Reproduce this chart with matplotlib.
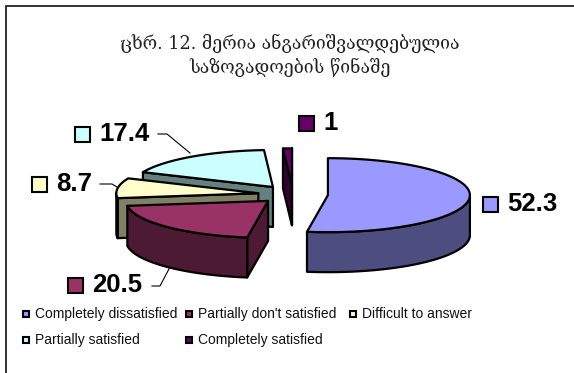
import numpy as np
import matplotlib
matplotlib.use("Agg")
import matplotlib.pyplot as plt
from matplotlib.patches import Polygon, Rectangle

categories = ["Completely dissatisfied", "Partially don't satisfied", "Difficult to answer",
              "Partially satisfied", "Completely satisfied"]
values = [52.3, 20.5, 8.7, 17.4, 1]
top_colors = ["#9999FF", "#993366", "#FFFFCC", "#CCFFFF", "#660066"]
side_colors = ["#4D4D80", "#4D1A33", "#808066", "#668080", "#330033"]

title_lines = ["ცხრ. 12. მერია ანგარიშვალდებულია", "საზოგადოების წინაშე"]

# pie geometry in pixels
CX, CY = 293, 194.5
RX, RY = 142, 37
DEPTH = 40
EXPLODE = 35
LW = 1.6

fig = plt.figure(figsize=(5.74, 3.73), dpi=100)
ax = fig.add_axes([0, 0, 1, 1])
ax.set_xlim(0, 574)
ax.set_ylim(373, 0)
ax.axis("off")

# only the top and left edges of the frame are inside the image
ax.plot([574, 6, 6], [5.5, 5.5, 373], color="#222222", lw=1.3, solid_joinstyle="miter")

for i, line in enumerate(title_lines):
    ax.text(290, 43 + i * 24, line, ha="center", va="center", fontsize=12.7,
            family=["DejaVu Serif", "DejaVu Sans"], color="#222222")


def rim(cx, cy, a0, a1, dy=0):
    t = np.radians(np.linspace(a0, a1, 80))
    return np.column_stack([cx + RX * np.sin(t), cy + dy - RY * np.cos(t)])


def draw_slice(a0, a1, top, side, z):
    mid = np.radians((a0 + a1) / 2)
    cx = CX + EXPLODE * np.sin(mid)
    cy = CY - EXPLODE * RY / RX * np.cos(mid)
    apex = np.array([cx, cy])
    style = dict(ec="black", lw=LW, joinstyle="round", zorder=z)

    # cut face that turns towards the viewer
    if np.sin(np.radians(a0)) < 0:
        p = rim(cx, cy, a0, a0)[0]
        ax.add_patch(Polygon([apex, p, p + [0, DEPTH], apex + [0, DEPTH]], fc=side, **style))
    if np.sin(np.radians(a1)) > 0:
        p = rim(cx, cy, a1, a1)[0]
        ax.add_patch(Polygon([apex, p, p + [0, DEPTH], apex + [0, DEPTH]], fc=side, **style))

    # outer wall, front half only
    lo, hi = max(a0, 90), min(a1, 270)
    if lo < hi:
        upper = rim(cx, cy, lo, hi)
        lower = rim(cx, cy, lo, hi, DEPTH)[::-1]
        ax.add_patch(Polygon(np.vstack([upper, lower]), fc=side, **style))

    ax.add_patch(Polygon(np.vstack([apex, rim(cx, cy, a0, a1)]), fc=top, **style))


edges = np.concatenate([[0], np.cumsum(values)]) / sum(values) * 360
angles = list(zip(edges[:-1], edges[1:]))

# back slices first, the big one in front
for z, i in enumerate([3, 2, 1, 4, 0]):
    draw_slice(angles[i][0], angles[i][1], top_colors[i], side_colors[i], 2 + z)

# value labels with their colour keys
label_pos = [(483, 204), (68, 285), (32, 184), (75, 134), (299, 123)]
for i, (x, y) in enumerate(label_pos):
    ax.add_patch(Rectangle((x, y - 7.5), 15, 15, fc=top_colors[i], ec="black", lw=1.5, zorder=10))
    ax.text(x + 24, y, f"{values[i]:g}", ha="left", va="center", fontsize=18.5, fontweight="bold",
            family="Liberation Sans", color="black", zorder=10)

# leader lines
leaders = [([158, 167, 190], [134, 134, 153]),
           ([100, 112, 117], [184, 184, 187]),
           ([152, 160, 170], [286, 286, 267])]
for xs, ys in leaders:
    ax.plot(xs, ys, color="black", lw=0.8, zorder=11)

# legend
legend_pos = [(22.5, 314), (186, 314), (349.5, 314), (22.5, 340), (186, 340)]
for i, (x, y) in enumerate(legend_pos):
    ax.add_patch(Rectangle((x, y - 3), 6, 6, fc=top_colors[i], ec="black", lw=1.5, zorder=10))
    ax.text(x + 12.5, y, categories[i], ha="left", va="center", fontsize=10,
            family="Liberation Sans", color="#111111", zorder=10)

fig.savefig("out.png", dpi=100)
